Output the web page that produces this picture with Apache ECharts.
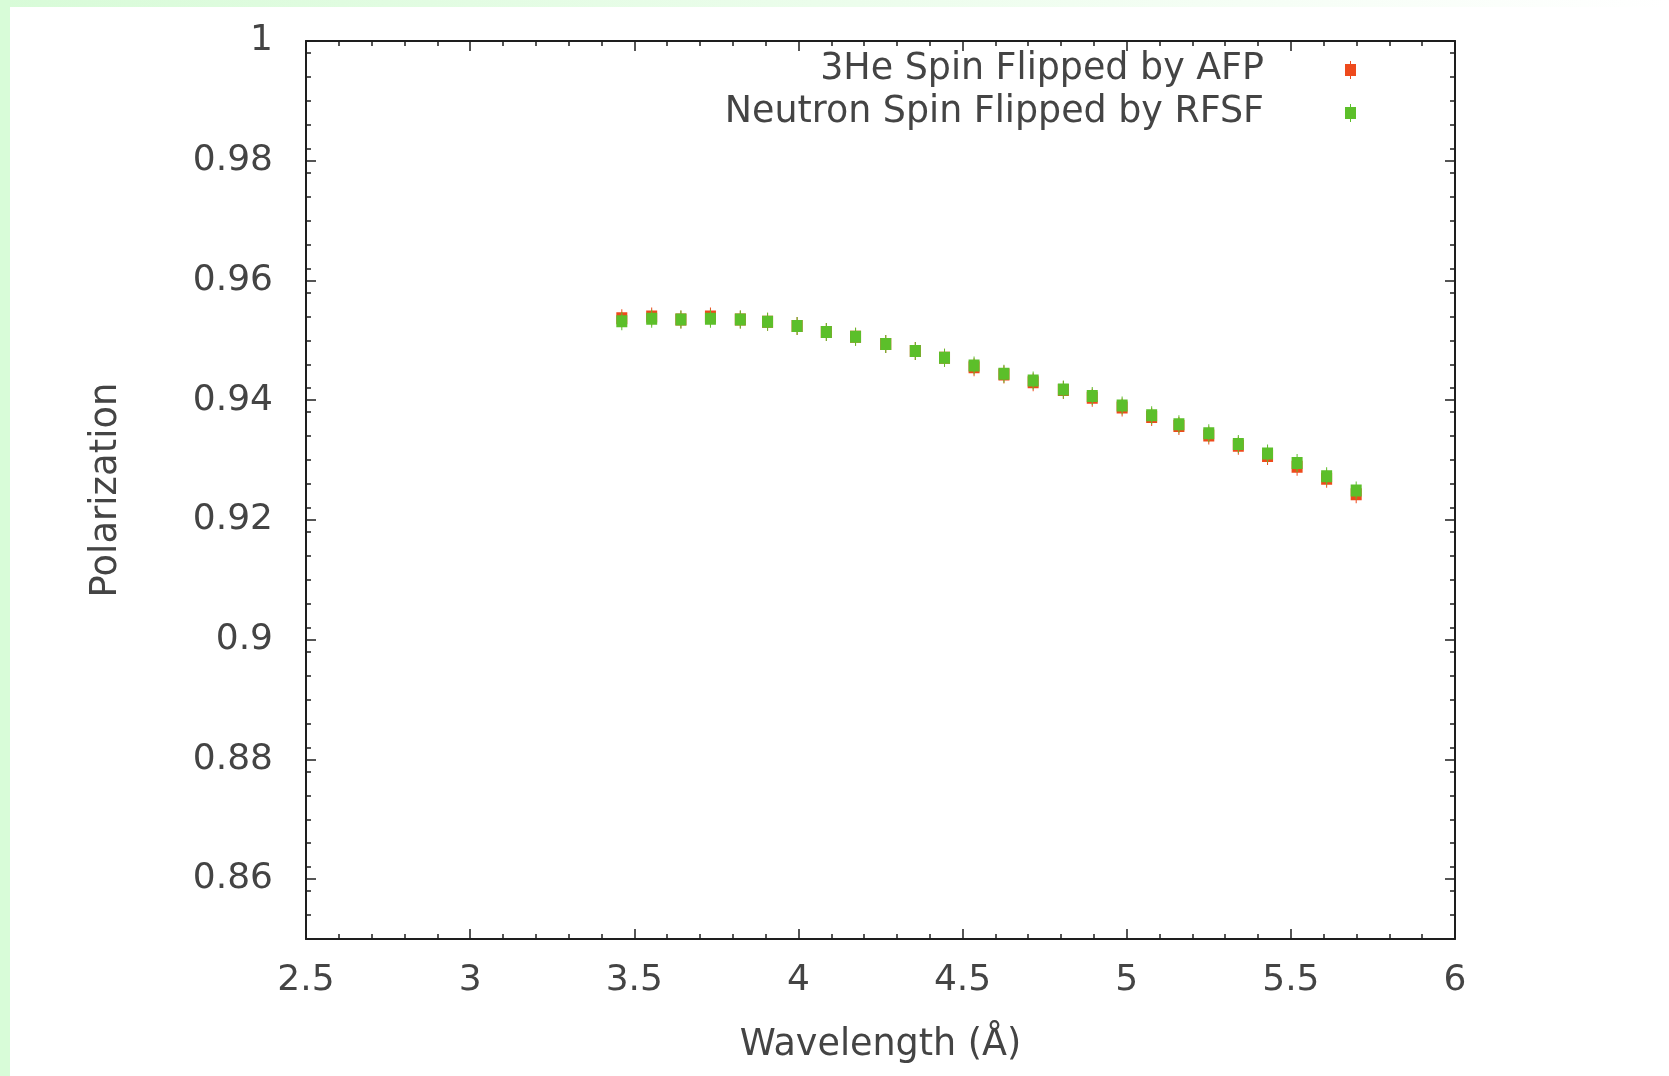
<!DOCTYPE html>
<html>
<head>
<meta charset="utf-8">
<script src="https://cdn.jsdelivr.net/npm/echarts@6/dist/echarts.min.js"></script>
<style>
html, body { margin: 0; padding: 0; background: #ffffff; }
#topstrip { position: absolute; left: 0; top: 0; width: 1669px; height: 7px; background: linear-gradient(to right, #d8fbd8, #ffffff); }
#leftstrip { position: absolute; left: 0; top: 0; width: 10px; height: 1076px; background: #d8fcd8; }
#chart { position: absolute; left: 0; top: 0; width: 1669px; height: 1076px; }
</style>
</head>
<body>
<div id="topstrip"></div>
<div id="leftstrip"></div>
<div id="chart"></div>
<script>
// ---- data ----
const wavelength = [3.462, 3.553, 3.642, 3.732, 3.823, 3.906, 3.996, 4.085, 4.174, 4.266, 4.356, 4.445, 4.535,
                    4.626, 4.715, 4.807, 4.895, 4.986, 5.076, 5.159, 5.250, 5.340, 5.429, 5.519, 5.609, 5.699];
const polAFP  = [0.9537, 0.9540, 0.9535, 0.9540, 0.9535, 0.9531, 0.9524, 0.9514, 0.9506, 0.9494, 0.9482, 0.9471, 0.9455,
                 0.9443, 0.9430, 0.9417, 0.9404, 0.9388, 0.9372, 0.9357, 0.9341, 0.9324, 0.9307, 0.9289, 0.9269, 0.9243];
const polRFSF = [0.9532, 0.9536, 0.9535, 0.9536, 0.9535, 0.9531, 0.9524, 0.9514, 0.9506, 0.9494, 0.9482, 0.9471, 0.9458,
                 0.9444, 0.9433, 0.9418, 0.9407, 0.9391, 0.9375, 0.9360, 0.9345, 0.9327, 0.9311, 0.9295, 0.9273, 0.9249];
const seriesNames = ['3He Spin Flipped by AFP', 'Neutron Spin Flipped by RFSF'];
const xLabels = [2.5, 3, 3.5, 4, 4.5, 5, 5.5, 6];
const yLabels = [0.86, 0.88, 0.9, 0.92, 0.94, 0.96, 0.98, 1];
const xMin = 2.5, xMax = 6, xStep = 0.5;
const yMin = 0.85, yMax = 1.0, yMinorStep = 0.004;

const yMinor = [];
for (let k = 0; yMin + k * yMinorStep <= yMax + 1e-9; k++) {
  const v = +(yMin + k * yMinorStep).toFixed(3);
  if (!yLabels.some(m => Math.abs(m - v) < 1e-9) && v > yMin + 1e-9) yMinor.push(v);
}

const FONT = 'DejaVu Sans';
const TXT = '#444444';
const AX = '#1e1e1e';
const fmt = v => String(+(+v).toFixed(3));
const marker = 'path://M5,0H6V3H11V15H6V18H5V15H0V3H5Z';
const colors = ['#ee4a1c', '#5cbf2a'];

const chart = echarts.init(document.getElementById('chart'), null, { renderer: 'canvas' });

function yAxisDef(pos, major) {
  return {
    type: 'value', position: pos, min: yMin, max: yMax, gridIndex: 0,
    axisLine: { show: major, lineStyle: { color: AX, width: 2 } },
    axisTick: { show: true, inside: true, length: major ? 10 : 5, customValues: major ? yLabels : yMinor,
                lineStyle: { color: AX, width: 1.5 } },
    axisLabel: (major && pos === 'left') ? { show: true, customValues: yLabels, formatter: fmt, margin: 33,
                fontFamily: FONT, fontSize: 36, color: TXT } : { show: false },
    splitLine: { show: false },
    name: (major && pos === 'left') ? 'Polarization' : '',
    nameLocation: 'middle', nameGap: 181, nameRotate: 90,
    nameTextStyle: { fontFamily: FONT, fontSize: 37, color: TXT }
  };
}

function xAxisDef(pos) {
  const bottom = pos === 'bottom';
  return {
    type: 'value', position: pos, min: xMin, max: xMax, interval: xStep, gridIndex: 0,
    axisLine: { show: true, lineStyle: { color: AX, width: 2 } },
    axisTick: { show: true, inside: true, length: 10, lineStyle: { color: AX, width: 1.5 } },
    minorTick: { show: true, splitNumber: 5, length: 5, lineStyle: { color: AX, width: 1.5 } },
    axisLabel: bottom ? { show: true, formatter: fmt, margin: 24, fontFamily: FONT, fontSize: 36, color: TXT,
                          customValues: xLabels } : { show: false },
    splitLine: { show: false }, minorSplitLine: { show: false },
    name: bottom ? 'Wavelength (Å)' : '',
    nameLocation: 'middle', nameGap: 88,
    nameTextStyle: { fontFamily: FONT, fontSize: 36.5, color: TXT }
  };
}

chart.setOption({
  animation: false,
  backgroundColor: 'transparent',
  grid: { left: 306, top: 41, width: 1149, height: 898, containLabel: false },
  xAxis: [xAxisDef('bottom'), xAxisDef('top')],
  yAxis: [yAxisDef('left', true), yAxisDef('left', false), yAxisDef('right', true), yAxisDef('right', false)],
  legend: {
    orient: 'vertical', right: 313, top: 50, padding: 0, align: 'right',
    itemWidth: 11, itemHeight: 18, itemGap: 3,
    data: seriesNames.map(n => ({ name: n, icon: marker })),
    textStyle: { fontFamily: FONT, fontSize: 36.4, color: TXT, lineHeight: 40, padding: [0, 76, 0, 0] },
    selectedMode: false
  },
  series: seriesNames.map((name, si) => ({
    name: name, type: 'scatter', xAxisIndex: 0, yAxisIndex: 0,
    symbol: marker, symbolSize: [11, 18],
    itemStyle: { color: colors[si], opacity: 1 },
    data: wavelength.map((w, i) => [w, si === 0 ? polAFP[i] : polRFSF[i]])
  }))
});
</script>
</body>
</html>
